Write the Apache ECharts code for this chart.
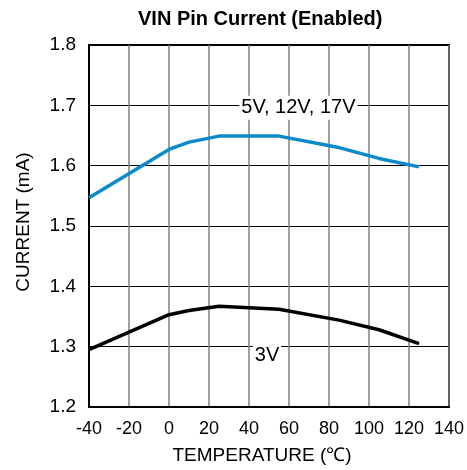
<!DOCTYPE html>
<html><head><meta charset="utf-8">
<script src="https://cdn.jsdelivr.net/npm/echarts@6/dist/echarts.min.js"></script>
<style>html,body{margin:0;padding:0;background:#fff}#c{width:467px;height:470px}</style>
</head><body><div id="c"></div>
<script>
const temps = [-40, 0, 10, 25, 55, 85, 105, 125];
const highV = [1.547, 1.627, 1.639, 1.649, 1.649, 1.630, 1.612, 1.598];
const lowV  = [1.295, 1.353, 1.360, 1.367, 1.362, 1.344, 1.328, 1.305];
const highLabel = '5V, 12V, 17V';
const lowLabel = '3V';
const highLabelAt = [64.7, 1.696];
const lowLabelAt = [49, 1.286];
const F = 'Liberation Sans, Arial, sans-serif';
const chart = echarts.init(document.getElementById('c'));
chart.setOption({
  animation: false,
  title: { text: 'VIN Pin Current (Enabled)', left: 133, top: 4,
    textStyle: { fontFamily: F, fontSize: 20, fontWeight: 'bold', color: '#000' } },
  grid: { left: 89, right: 18, top: 45, bottom: 63, show: true, borderColor: '#000', borderWidth: 2,
    outerBoundsMode: 'none', containLabel: false },
  xAxis: { type: 'value', min: -40, max: 140, interval: 20,
    name: 'TEMPERATURE (\u2103)', nameLocation: 'middle', nameGap: 39,
    nameTextStyle: { fontFamily: F, fontSize: 19, color: '#000', padding: [0, 14, 0, 0] },
    axisLine: { onZero: false, lineStyle: { color: '#000', width: 2 } }, axisTick: { show: false },
    axisLabel: { fontFamily: F, fontSize: 18, color: '#000', margin: 13 },
    splitLine: { lineStyle: { color: '#808080', width: 1.5 } } },
  yAxis: { type: 'value', min: 1.2, max: 1.8, interval: 0.1,
    name: 'CURRENT (mA)', nameLocation: 'middle', nameGap: 56,
    nameTextStyle: { fontFamily: F, fontSize: 19, color: '#000', padding: [0, 0, 0, 8] },
    axisLine: { onZero: false, lineStyle: { color: '#000', width: 2 } }, axisTick: { show: false },
    axisLabel: { fontFamily: F, fontSize: 19, color: '#000', margin: 13, formatter: v => v.toFixed(1) },
    splitLine: { lineStyle: { color: '#000', width: 1 } } },
  series: [
    { type: 'line', data: temps.map((t, i) => [t, highV[i]]), symbol: 'none',
      lineStyle: { color: '#0a8ac8', width: 3.5 },
      markPoint: { symbol: 'rect', symbolSize: 0, data: [{ coord: highLabelAt }],
        label: { show: true, formatter: highLabel, fontFamily: F, fontSize: 20, color: '#000',
          backgroundColor: '#fff', padding: [2, 2], position: 'inside' } } },
    { type: 'line', data: temps.map((t, i) => [t, lowV[i]]), symbol: 'none',
      lineStyle: { color: '#000', width: 3.5 },
      markPoint: { symbol: 'rect', symbolSize: 0, data: [{ coord: lowLabelAt }],
        label: { show: true, formatter: lowLabel, fontFamily: F, fontSize: 20, color: '#000',
          backgroundColor: '#fff', padding: [2, 2], position: 'inside' } } }
  ]
});
</script></body></html>
